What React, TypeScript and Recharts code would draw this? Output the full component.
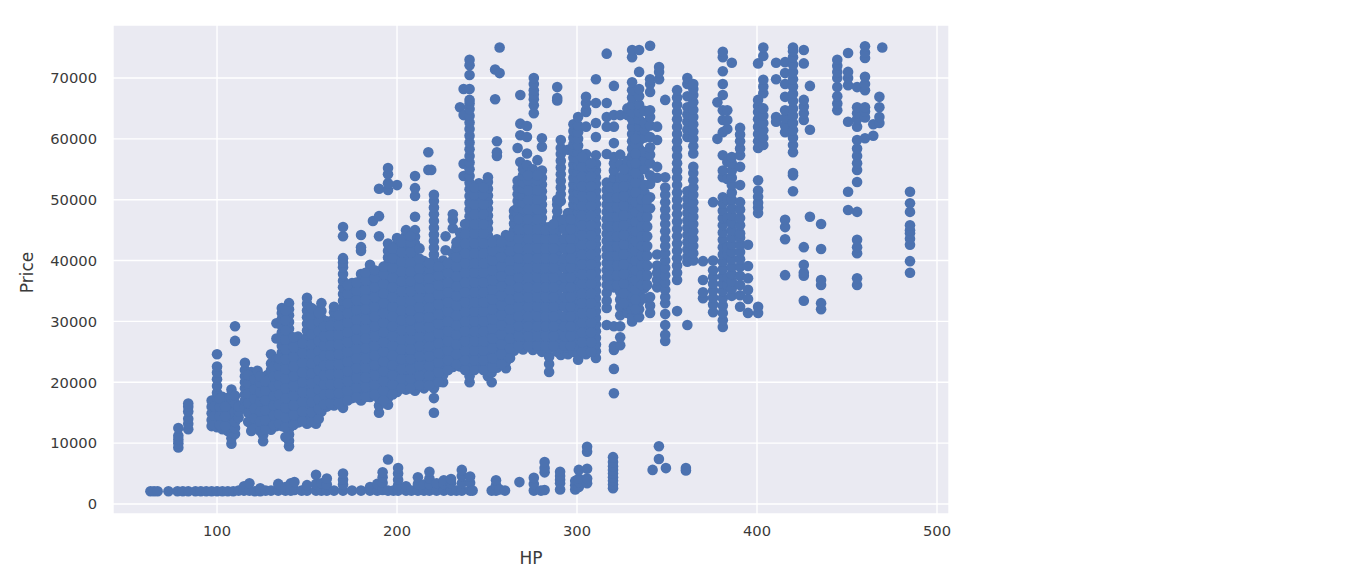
import { CartesianGrid, Scatter, ScatterChart, XAxis, YAxis } from "recharts";

type Column = [number, number[]];

// prices in thousands
const cheapCars: Column[] = [
  [63, [2.1]], [65, [2.1]], [67, [2.1]], [73, [2.1]], [78, [2.1]], [81, [2.1]], [84, [2.1]], [88, [2.1]], [91, [2.1]], [94, [2.1]],
  [97, [2.1]], [100, [2.1]], [103, [2.1]], [106, [2.1]], [109, [2.1]], [112, [2.2]], [115, [2.2, 2.9]], [118, [2.2, 3.4]], [121, [2.1]],
  [124, [2.1, 2.6]], [127, [2.2]], [130, [2.2]], [134, [2.2, 3.3]], [138, [2.2, 2.8]], [141, [2.2, 3.4]], [143, [2.3, 3.6]], [147, [2.2]],
  [150, [2.2, 3.1]], [155, [2.2, 3.3, 4.8]], [158, [2.2, 3.4]], [161, [2.2, 3.2, 4.2]], [165, [2.2]], [170, [2.2, 3.2, 4.0, 5.0]], [175, [2.2]],
  [180, [2.2]], [185, [2.2, 2.8]], [189, [2.2, 3.3]], [192, [2.3, 3.5, 4.4, 5.2]], [195, [2.2, 7.3]], [198, [2.2]], [200.6, [2.2, 3.1, 4.0, 5.0, 5.9]],
  [205, [2.2, 2.9]], [208, [2.2]], [211.6, [2.2, 3.3, 4.4]], [215, [2.2, 3.2]], [218, [2.2, 3.2, 4.2, 5.3]], [222, [2.2, 3.4]], [226, [2.2, 3.3, 3.9]],
  [230, [2.2, 3.4, 4.1]], [233, [2.2]], [236, [2.2, 3.4, 4.6, 5.6]], [240.6, [2.2, 3.5, 4.5]], [242, [2.2]],
  [252.6, [2.2]], [255, [2.2, 3.1, 3.9]], [257, [2.4]], [260, [2.2]], [268, [3.6]], [276, [2.2, 3.3, 4.3]], [280, [2.2]], [282, [2.3, 5.2, 5.9, 6.9]],
  [290.6, [2.4, 3.4, 4.0, 4.6, 5.3]], [299, [2.4, 3.1, 3.8]], [301, [2.8, 3.6, 4.2, 5.6]], [305.6, [3.4, 4.2, 5.8, 8.6, 9.4]],
  [320, [2.6, 3.2, 3.8, 4.4, 5.0, 5.6, 6.2, 6.9, 7.7]], [342, [5.6]], [345.5, [7.4, 9.5]], [349.4, [5.9]], [360.5, [5.5, 5.9]],
];

const entryCars: Column[] = [
  [78.5, [9.3, 10, 10.6, 11.2, 12.5]],
  [84, [12.3, 13.2, 14, 15.2, 16, 16.5]],
  [97, [12.8, 13.8, 14.9, 16, 17]],
  [100, [12.6, 13.6, 14.5, 15.5, 16.4, 17.5, 18.3, 19.4, 20.5, 21.6, 22.6, 24.6]],
  [103, [12.3, 13.3, 14.2, 15.3, 16.3, 17.6]],
  [106, [12, 13, 14.1, 15.1, 16.2, 17.4]],
  [108, [9.9, 10.8, 11.7, 12.6, 13.6, 14.6, 15.7, 16.8, 17.9, 18.8]],
  [110, [11.5, 12.5, 13.5, 15.2, 16.6, 17.8, 26.8, 29.2]],
  [112, [14.2, 15.3, 16]],
  [115.5, [16, 17, 18, 19, 20, 21, 22, 23.2]],
  [119, [12, 13.1, 14.2, 15.3, 16.4, 17.5, 18.6, 19.7, 20.8, 21.7]],
  [122.5, [12.6, 13.7, 14.8, 15.9, 17, 18.1, 19.2, 20.3, 21.4, 21.9]],
  [125.6, [10.3, 11.3, 12.3, 13.4, 14.5, 15.6, 16.7, 17.8, 18.9, 19.9]],
  [128, [12.4, 13.5, 14.6, 15.7, 16.8, 17.9, 19, 20.1, 21.2]],
  [130, [12.2, 13.2, 14.3, 15.4, 16.5, 17.6, 18.7, 19.8, 20.9, 22, 23.1, 24.6]],
  [133, [12.8, 13.9, 15, 16.1, 17.2, 18.3, 19.4, 20.5, 21.6, 22.7, 23.8, 27.2, 29.7]],
  [136, [12.8, 13.9, 15, 16.1, 17.2, 18.3, 19.4, 20.5, 21.6, 22.7, 23.8, 24.9, 26, 27.1, 28.2, 29.3, 30.4, 31.4, 32.2]],
  [140, [9.5, 10.4, 11.4, 12.4, 13.4, 14.5, 15.6, 16.7, 17.8, 18.9, 20, 21.1, 22.2, 23.3, 24.4, 25.5, 26.6, 27.7, 28.8, 29.9, 31, 32, 33]],
  [145, [13.4, 14.5, 15.6, 16.7, 17.8, 18.9, 20, 21.1, 22.2, 23.3, 24.4, 25.5, 26.6, 27.5]],
  [150, [13.2, 14.2, 15.3, 16.4, 17.5, 18.6, 19.7, 20.8, 21.9, 23, 24.1, 25.2, 26.3, 27.4, 28.5, 29.6, 30.7, 31.8, 32.9, 33.9]],
  [155, [13.2, 14.3, 15.4, 16.5, 17.6, 18.7, 19.8, 20.9, 22, 23.1, 24.2, 25.3, 26.4, 27.5, 28.6, 29.7, 30.8, 31.8]],
  [158, [15.2, 16.3, 17.4, 18.5, 19.6, 20.7, 21.8, 22.9, 24, 25.1, 26.2, 27.3, 28.4, 29.5, 30.6, 31.7, 33]],
  [161, [16, 17.1, 18.2, 19.3, 20.4, 21.5, 22.6, 23.7, 24.8, 25.9, 27, 28.1, 29.2, 30]],
];

const midCars: Column[] = [
  [165, [16.2, 17.3, 18.4, 19.5, 20.6, 21.7, 22.8, 23.9, 25, 26.1, 27.2, 28.3, 29.4, 30.5, 31.5, 32.4]],
  [170, [15.8, 16.9, 18, 19.1, 20.2, 21.3, 22.4, 23.5, 24.6, 25.7, 26.8, 27.9, 29, 30.1, 31.2, 32.3, 33.4, 34.5, 35.6, 36.7, 37.8, 38.9, 39.7, 40.4, 44, 45.5]],
  [175, [17.4, 18.5, 19.6, 20.7, 21.8, 22.9, 24, 25.1, 26.2, 27.3, 28.4, 29.5, 30.6, 31.7, 32.8, 33.9, 35, 36.3]],
  [180, [17, 18, 19.1, 20.2, 21.3, 22.4, 23.5, 24.6, 25.7, 26.8, 27.9, 29, 30.1, 31.2, 32.3, 33.4, 34.5, 35.6, 36.7, 37.8, 41.6, 42.2, 44.2]],
  [185, [17.6, 18.7, 19.8, 20.9, 22, 23.1, 24.2, 25.3, 26.4, 27.5, 28.6, 29.7, 30.8, 31.9, 33, 34.1, 35.2, 36.3, 37.4, 38.5, 39.3]],
  [186.6, [46.5]],
  [190, [15, 16.2, 17.3, 18.4, 19.5, 20.6, 21.7, 22.8, 23.9, 25, 26.1, 27.2, 28.3, 29.4, 30.5, 31.6, 32.7, 33.8, 34.9, 36, 37.1, 38.2, 44, 47.3, 51.8]],
  [195, [16.3, 17.4, 18.5, 19.6, 20.7, 21.8, 22.9, 24, 25.1, 26.2, 27.3, 28.4, 29.5, 30.6, 31.7, 32.8, 33.9, 35, 36.1, 37.2, 38.3, 39.4, 40.5, 41.6, 42.8, 51.6, 52.7, 54.2, 55.2]],
  [200, [18.4, 19.5, 20.6, 21.7, 22.8, 23.9, 25, 26.1, 27.2, 28.3, 29.4, 30.5, 31.6, 32.7, 33.8, 34.9, 36, 37.1, 38.2, 39.3, 40.4, 41.5, 42.6, 43.7, 52.4]],
  [205, [18.8, 19.9, 21, 22.1, 23.2, 24.3, 25.4, 26.5, 27.6, 28.7, 29.8, 30.9, 32, 33.1, 34.2, 35.3, 36.4, 37.5, 38.6, 39.7, 40.8, 41.9, 43, 44.1, 45]],
  [210, [18.6, 19.7, 20.8, 21.9, 23, 24.1, 25.2, 26.3, 27.4, 28.5, 29.6, 30.7, 31.8, 32.9, 34, 35.1, 36.2, 37.3, 38.4, 39.5, 40.6, 41.7, 42.8, 43.9, 45, 47.2, 50.6, 51.9, 53.9]],
  [215, [19, 20.1, 21.2, 22.3, 23.4, 24.5, 25.6, 26.7, 27.8, 28.9, 30, 31.1, 32.2, 33.3, 34.4, 35.5, 36.6, 37.7, 38.8, 39.9]],
  [217.4, [54.9, 57.8]],
  [219, [54.9]],
  [220.5, [15, 17.4, 19, 20.1, 21.2, 22.3, 23.4, 24.5, 25.6, 26.7, 27.8, 28.9, 30, 31.1, 32.2, 33.3, 34.4, 35.5, 36.6, 37.7, 38.8, 39.9, 41, 42.1, 43.2, 44.3, 45.4, 46.5, 47.6, 48.7, 49.8, 50.8]],
  [225.6, [20, 21.2, 22.3, 23.4, 24.5, 25.6, 26.7, 27.8, 28.9, 30, 31.1, 32.2, 33.3, 34.4, 35.5, 36.6, 37.7, 38.8, 40]],
  [227, [41.7, 44]],
  [231, [22.5, 23.6, 24.7, 25.8, 26.9, 28, 29.1, 30.2, 31.3, 32.4, 33.5, 34.6, 35.7, 36.8, 37.9, 39, 40.1, 41.2, 45.3, 46.7, 47.6]],
  [235, [22.6, 23.7, 24.8, 25.9, 27, 28.1, 29.2, 30.3, 31.4, 32.5, 33.6, 34.7, 35.8, 36.9, 38, 39.1, 40.2, 41.3, 42.4, 43.5, 44.6, 65.2]],
  [237, [53.9, 55.9, 63.9, 68.2]],
  [240.3, [20, 21, 22, 23.1, 24.2, 25.3, 26.4, 27.5, 28.6, 29.7, 30.8, 31.9, 33, 34.1, 35.2, 36.3, 37.4, 38.5, 39.6, 40.7, 41.8, 42.9, 44, 45.1, 46.2, 47.3, 48.4, 49.5, 50.6, 51.7, 52.8, 53.9, 55, 56.1, 57.2, 58.3, 59.4, 60.5, 61.6, 62.7, 63.8, 64.9, 65.8, 66.4, 68.2, 70.5, 72.1, 73]],
];

const sportCars: Column[] = [
  [245.5, [22.5, 23.6, 24.7, 25.8, 26.9, 28, 29.1, 30.2, 31.3, 32.4, 33.5, 34.6, 35.7, 36.8, 37.9, 39, 40.1, 41.2, 42.3, 43.4, 44.5, 45.6, 46.7, 47.8, 48.9, 50, 51.1, 52.7]],
  [250.5, [21, 22.1, 23.2, 24.3, 25.4, 26.5, 27.6, 28.7, 29.8, 30.9, 32, 33.1, 34.2, 35.3, 36.4, 37.5, 38.6, 39.7, 40.8, 41.9, 43, 44.1, 45.2, 46.3, 47.4, 48.5, 49.6, 50.7, 51.8, 52.9, 53.7]],
  [252.6, [20, 21.6]],
  [254.5, [66.5, 71.4]],
  [255.5, [22.4, 23.5, 24.6, 25.7, 26.8, 27.9, 29, 30.1, 31.2, 32.3, 33.4, 34.5, 35.6, 36.7, 37.8, 38.9, 40, 41.1, 42.2, 43.5, 57.2, 57.8, 59.6]],
  [257, [70.8, 75]],
  [260.5, [22.3, 23.4, 24.5, 25.6, 26.7, 27.8, 28.9, 30, 31.1, 32.2, 33.3, 34.4, 35.5, 36.6, 37.7, 38.8, 39.9, 41, 42.1, 43.2, 44.2]],
  [265, [25.2, 26.3, 27.4, 28.5, 29.6, 30.7, 31.8, 32.9, 34, 35.1, 36.2, 37.3, 38.4, 39.5, 40.6, 41.7, 42.8, 43.9, 45, 46.1, 47.2, 48.2]],
  [267, [47.6, 48.7, 49.8, 50.9, 52, 53.1, 58.5]],
  [268.5, [56.2, 60.6, 62.5, 67.2]],
  [270, [25.4, 26.5, 27.6, 28.7, 29.8, 30.9, 32, 33.1, 34.2, 35.3, 36.4, 37.5, 38.6, 39.7, 40.8, 41.9, 43, 44.1, 45.2, 46.3, 47.4, 48.5, 49.6, 50.7, 51.8, 52.9, 54, 55]],
  [272.2, [55.7, 57.6, 60.3, 62.1]],
  [275.5, [25.3, 26.4, 27.5, 28.6, 29.7, 30.8, 31.9, 33, 34.1, 35.2, 36.3, 37.4, 38.5, 39.6, 40.7, 41.8, 42.9, 44, 45.1, 46.2, 47.3, 48.4, 49.5, 50.6, 51.7, 52.8, 53.9, 55]],
  [276, [64.2, 65.5, 66.5, 67.3, 68, 69, 70]],
  [278, [56.5]],
  [280.5, [25, 26.1, 27.2, 28.3, 29.4, 30.5, 31.6, 32.7, 33.8, 34.9, 36, 37.1, 38.2, 39.3, 40.4, 41.5, 42.6, 43.7, 44.8, 45.9, 47, 48.1, 49.2, 50.3, 51.4, 52.5, 53.6, 54.8, 58.7, 60.1]],
  [284.5, [21.7, 23, 24.2, 25.6, 26.7, 27.8, 28.9, 30, 31.1, 32.2, 33.3, 34.4, 35.5, 36.6, 37.7, 38.8, 39.9, 41, 42.1, 43.2, 44.3, 45.5]],
  [289, [25, 26.1, 27.2, 28.3, 29.4, 30.5, 31.6, 32.7, 33.8, 34.9, 36, 37.1, 38.2, 39.3, 40.4, 41.5, 42.6, 43.7, 44.8, 45.9, 47, 48.1, 49.2, 50, 66.3, 66.7, 68.5]],
  [291, [24.5, 25.6, 26.7, 27.8, 30, 33.3, 36.6, 40, 43.2, 46.5, 49.8, 50.9, 52, 53.1, 54.2, 55.3, 56.4, 57.5, 58.5, 59.8]],
  [295, [24.6, 25.7, 26.8, 27.9, 29, 30.1, 31.2, 32.3, 33.4, 34.5, 35.6, 36.7, 37.8, 38.9, 40, 41.1, 42.2, 43.3, 44.4, 45.5, 46.6, 47.8, 58.2]],
  [298, [25, 26.1, 27.2, 28.3, 29.4, 30.5, 31.6, 32.7, 33.8, 34.9, 36, 37.1, 38.2, 39.3, 40.4, 41.5, 42.6, 43.7, 44.8, 45.9, 47, 48.1, 49.2, 50.3, 51.4, 52.5, 53.6, 54.7, 55.8, 56.9, 58, 59.1, 60.2, 61.3, 62.4]],
  [300.6, [23.7, 24.8, 25.9, 27, 28.1, 29.2, 30.3, 31.4, 32.5, 33.6, 34.7, 35.8, 36.9, 38, 39.1, 40.2, 41.3, 42.4, 43.5, 44.6, 45.7, 46.8, 47.9, 49, 50.1, 51.2, 52.3, 53.4, 54.5, 55.6, 56.7, 57.8, 58.9, 60, 61.1, 62.2, 63.6]],
  [305, [24.6, 25.7, 26.8, 27.9, 29, 30.1, 31.2, 32.3, 33.4, 34.5, 35.6, 36.7, 37.8, 38.9, 40, 41.1, 42.2, 43.3, 44.4, 45.5, 46.6, 47.7, 48.8, 49.9, 51, 52.1, 53.2, 54.3, 55.4, 56.5, 57.5, 62, 64.4, 64.7, 65.9, 66.9]],
  [310.5, [24, 25.1, 26.2, 27.3, 28.4, 29.5, 30.6, 31.7, 32.8, 33.9, 35, 36.1, 37.2, 38.3, 39.4, 40.5, 41.6, 42.7, 43.8, 44.9, 46, 47.1, 48.2, 49.3, 50.4, 51.5, 52.6, 53.7, 54.8, 55.9, 57.3, 60.3, 62.6, 65.9, 69.8]],
];

const upperCars: Column[] = [
  [316.5, [29.4, 32.2, 33.4, 34.7, 36, 37.2, 38.4, 39.6, 40.8, 42, 43.2, 44.4, 45.6, 46.8, 48, 49.2, 50.4, 51.6, 52.8, 57.5, 62, 63.6, 65.9, 74]],
  [320.5, [18.2, 22.2, 25.3, 25.9, 29.2, 35.6, 36.8, 38, 39.2, 40.4, 41.6, 42.8, 44, 45.2, 46.4, 47.6, 48.8, 50, 51.2, 52.4, 53.6, 54.8, 56, 57, 59.3, 62, 63.9, 68.7]],
  [324, [26.1, 27.4, 29.2, 31, 32.4, 33.6, 34.8, 36, 37.2, 38.4, 39.6, 40.8, 42, 43.2, 44.4, 45.6, 46.8, 48, 49.2, 50.4, 51.6, 52.8, 53.7, 55.8, 57.4, 63.9]],
  [328, [31.4, 32.6, 33.8, 35, 36.2, 37.4, 38.6, 39.8, 41, 42.2, 43.4, 44.6, 45.8, 47, 48.2, 49.4, 50.6, 51.8, 53, 54.2, 55.4, 56.4, 63.9, 65]],
  [330.6, [30, 30.7, 32, 33.2, 34.4, 35.6, 36.8, 38, 39.2, 40.4, 41.6, 42.8, 44, 45.2, 46.4, 47.6, 48.8, 50, 51.2, 52.4, 53.6, 54.8, 56, 57.2, 58.4, 59.6, 60.8, 62, 63.2, 64.4, 65.6, 66.8, 68, 69.3, 73.4, 74.6]],
  [334.5, [30.7, 32, 33.2, 34.4, 35.6, 36.8, 38, 39.2, 40.4, 41.6, 42.8, 44, 45.2, 46.4, 47.6, 48.8, 50, 51.2, 52.4, 53.6, 54.8, 56, 57.2, 58.4, 59.6, 60.8, 62, 63.2, 64.4, 65.6, 67, 68.2, 71, 74.6]],
  [337.5, [33.8, 35.5, 36.8, 38, 39.2, 40.4, 41.6, 42.8, 44, 45.2, 46.4, 47.6, 48.8, 50, 51.2, 52.4, 55, 56.4, 57.8, 60.2, 61.4, 62.6, 64.6]],
  [340.6, [31.4, 32.6, 34, 48.6, 50.4, 52.6, 54, 56, 57.4, 58.6, 60.3, 62.2, 63.6, 64.7, 67.7, 69, 69.8, 75.3]],
  [344.5, [35.6, 36.8, 38, 39.2, 41, 53.6, 55.4, 59.8, 62]],
  [345.6, [69.8, 71, 71.8]],
  [349, [26.8, 27.8, 29.4, 31.2, 33, 34, 35.2, 36.4, 37.6, 38.8, 40, 41.2, 42.4, 43.6, 44.8, 46, 47.2, 48.4, 49.6, 50.8, 52, 53.7, 66.4]],
  [355.6, [31.7, 36.8, 38, 39.2, 40.4, 41.6, 42.8, 44, 45.2, 46.4, 47.6, 48.8, 50, 51.2, 52.4, 53.6, 54.8, 56, 57.2, 58.4, 59.6, 60.8, 62, 63.2, 64.4, 65.6, 66.8, 68]],
  [361.3, [29.4, 39.8, 40.6, 41.8, 43, 44.2, 45.4, 46.6, 47.8, 49, 50.2, 51.4, 60.3, 61.5, 62.8, 64, 65.2, 67, 69, 70]],
  [364.6, [40, 41.2, 42.4, 43.6, 44.8, 46, 47.2, 48.4, 49.6, 50.8, 52, 53.2, 54.4, 55.4, 57.6, 58.8, 60, 61.2, 62.4, 63.6, 64.8, 66, 67.2, 68.2, 69]],
  [370, [33.8, 34.8, 36.8, 39.9]],
  [375.6, [31.5, 32.8, 33.9, 35.1, 36.2, 37.3, 38.4, 40, 49.6]],
  [378, [60, 66]],
  [381, [29.1, 30.2, 31.4, 32.6, 33.8, 35, 36.2, 37.4, 38.6, 39.8, 41, 42.2, 43.4, 44.6, 45.8, 47, 48.2, 49.4, 50.4, 53.7, 54.8, 57.3, 61.1, 63.1, 64.7, 67.2, 69, 71.1, 73.4, 74.3]],
  [383.5, [36, 37.2, 41, 42.2, 47, 50, 53.4, 56.2, 61.6, 63.1, 64.7]],
  [386, [34.2, 35.4, 36.6, 37.8, 39, 40.2, 41.4, 42.6, 43.8, 45, 46.2, 47.4, 48.6, 50, 51.2, 52.4, 53.6, 54.8, 56, 57, 72.5]],
  [390.6, [32.4, 34.3, 36, 37.5, 39, 40.2, 41.4, 42.6, 43.8, 44.5, 45.8, 47, 48.4, 49.6, 52.4, 55.4, 57.3, 58.4, 59.6, 60.7, 61.8]],
  [395, [31.4, 33.7, 35.2, 37.1, 39.1, 42.6]],
  [400.6, [31.4, 32.4, 47.8, 48.7, 49.5, 50.5, 51.5, 53.2, 58.5, 59.6, 60.8, 62, 63.2, 64.4, 65.4, 66.4, 72.4]],
  [403.5, [59, 60.2, 61.4, 62.6, 63.8, 65, 67.5, 68.6, 69.7, 73.6, 75]],
  [410.6, [62.8, 63.6, 69.8, 72.5]],
  [415.6, [37.6, 43.5, 45.5, 46.7, 61.1, 62.2, 63.4, 64.7, 66.9, 69, 70.8, 72.6]],
  [420, [51.4, 54, 54.4, 57.8, 59, 60.2, 61.4, 62.6, 63.8, 65, 66.2, 67.4, 68.6, 69.8, 71, 72.2, 73.4, 74.4, 75]],
  [426, [33.4, 37.5, 38, 39.3, 42.2, 63.1, 64.2, 65.3, 66.4, 72.4, 74.6]],
  [429.4, [47.2, 61.5, 68.7]],
  [435.6, [32, 33, 36, 36.8, 41.9, 46]],
  [444.6, [64.7, 65.8, 67, 68.5, 70, 71, 72, 73]],
  [450.6, [48.3, 51.3, 62.8, 68.8, 70, 71, 74.1]],
  [455.6, [36, 37.1, 41.2, 42.2, 43.4, 48, 52.9, 54.9, 56, 57.2, 58.4, 59.8, 62, 63.2, 64.2, 65.2, 68.5]],
  [460, [60.1, 63.5, 64.5, 65.2, 68, 69, 70.2, 73.3, 74.2, 75.2]],
  [464.6, [60.5, 62.4]],
  [468, [62.6, 63.6, 65.2, 66.9]],
  [469.6, [75]],
  [485, [38, 39.9, 42.6, 43.6, 44.5, 45, 45.8, 48, 49.4, 51.3]],
];

// the many cars sitting between the main hp columns, where the mass is solid
const denseLow: Column[] = [
  [98.5, [13, 14.5, 16]], [101.5, [13, 14.5, 16, 17.3]], [104.5, [12.8, 14.4, 16]],
  [117.3, [13.5, 15, 16.6, 18.2, 19.8, 21.2]],
  [120.8, [12.5, 14.1, 15.7, 17.3, 18.9, 20.5]],
  [124, [12, 13.6, 15.2, 16.8, 18.4, 20, 21]],
  [126.8, [12.2, 13.8, 15.4, 17, 18.6, 20.2]],
  [131.5, [13, 14.6, 16.2, 17.8, 19.4, 21, 22.6]],
  [134.5, [13.2, 14.8, 16.4, 18, 19.6, 21.2, 22.8, 24]],
  [138, [11, 12.6, 14.2, 15.8, 17.4, 19, 20.6, 22.2, 23.8, 25.4, 27, 28.6, 30.2, 31.8]],
  [142.5, [13, 14.6, 16.2, 17.8, 19.4, 21, 22.6, 24.2, 25.8, 27.4]],
  [147.5, [13.6, 15.2, 16.8, 18.4, 20, 21.6, 23.2, 24.8, 26.4]],
  [152.5, [13.5, 15.1, 16.7, 18.3, 19.9, 21.5, 23.1, 24.7, 26.3, 27.9, 29.5, 31.1, 32.2]],
  [156.5, [14, 15.6, 17.2, 18.8, 20.4, 22, 23.6, 25.2, 26.8, 28.4, 30, 31.4]],
  [159.5, [16.4, 18, 19.6, 21.2, 22.8, 24.4, 26, 27.6, 29.2]],
  [163, [16.5, 18.1, 19.7, 21.3, 22.9, 24.5, 26.1, 27.7, 29.3]],
  [167.5, [16.6, 18.2, 19.8, 21.4, 23, 24.6, 26.2, 27.8, 29.4, 31]],
  [172.5, [17, 18.6, 20.2, 21.8, 23.4, 25, 26.6, 28.2, 29.8, 31.4, 33, 34.6, 36]],
  [177.5, [17.5, 19.1, 20.7, 22.3, 23.9, 25.5, 27.1, 28.7, 30.3, 31.9, 33.5, 35.1, 36.4]],
  [182.5, [17.6, 19.2, 20.8, 22.4, 24, 25.6, 27.2, 28.8, 30.4, 32, 33.6, 35.2, 36.8, 38]],
  [187.5, [18, 19.6, 21.2, 22.8, 24.4, 26, 27.6, 29.2, 30.8, 32.4, 34, 35.6, 37.2, 38.4]],
  [192.5, [17, 18.6, 20.2, 21.8, 23.4, 25, 26.6, 28.2, 29.8, 31.4, 33, 34.6, 36.2, 37.8, 39]],
  [197.5, [18, 19.6, 21.2, 22.8, 24.4, 26, 27.6, 29.2, 30.8, 32.4, 34, 35.6, 37.2, 38.8, 40.4, 42]],
  [202.5, [19, 20.6, 22.2, 23.8, 25.4, 27, 28.6, 30.2, 31.8, 33.4, 35, 36.6, 38.2, 39.8, 41.4, 43]],
  [207.5, [19, 20.6, 22.2, 23.8, 25.4, 27, 28.6, 30.2, 31.8, 33.4, 35, 36.6, 38.2, 39.8, 41.4, 43, 44]],
  [212.5, [19.5, 21.1, 22.7, 24.3, 25.9, 27.5, 29.1, 30.7, 32.3, 33.9, 35.5, 37.1, 38.7, 40.3, 42]],
  [217.8, [19.5, 21.1, 22.7, 24.3, 25.9, 27.5, 29.1, 30.7, 32.3, 33.9, 35.5, 37.1, 38.7, 39.6]],
  [223, [20, 21.6, 23.2, 24.8, 26.4, 28, 29.6, 31.2, 32.8, 34.4, 36, 37.6, 39]],
  [228.3, [22, 23.6, 25.2, 26.8, 28.4, 30, 31.6, 33.2, 34.8, 36.4, 38, 39.6]],
  [233, [23, 24.6, 26.2, 27.8, 29.4, 31, 32.6, 34.2, 35.8, 37.4, 39, 40.6, 42.2, 43]],
];

const denseHigh: Column[] = [
  [237.8, [22, 23.6, 25.2, 26.8, 28.4, 30, 31.6, 33.2, 34.8, 36.4, 38, 39.6, 41.2, 42.8, 44.4, 46]],
  [243, [22, 23.6, 25.2, 26.8, 28.4, 30, 31.6, 33.2, 34.8, 36.4, 38, 39.6, 41.2, 42.8, 44.4, 46, 47.6, 49.2, 50.8, 52]],
  [248, [22, 23.6, 25.2, 26.8, 28.4, 30, 31.6, 33.2, 34.8, 36.4, 38, 39.6, 41.2, 42.8, 44.4, 46, 47.6, 49.2, 50.8, 52]],
  [253, [22.4, 24, 25.6, 27.2, 28.8, 30.4, 32, 33.6, 35.2, 36.8, 38.4, 40, 41.6, 43]],
  [258, [23, 24.6, 26.2, 27.8, 29.4, 31, 32.6, 34.2, 35.8, 37.4, 39, 40.6, 42.2, 43]],
  [262.8, [24, 25.6, 27.2, 28.8, 30.4, 32, 33.6, 35.2, 36.8, 38.4, 40, 41.6, 43.2, 44]],
  [267.5, [26, 27.6, 29.2, 30.8, 32.4, 34, 35.6, 37.2, 38.8, 40.4, 42, 43.6, 45.2, 46.8]],
  [272.8, [26, 27.6, 29.2, 30.8, 32.4, 34, 35.6, 37.2, 38.8, 40.4, 42, 43.6, 45.2, 46.8, 48.4, 50, 51.6, 53.2, 54]],
  [278, [26, 27.6, 29.2, 30.8, 32.4, 34, 35.6, 37.2, 38.8, 40.4, 42, 43.6, 45.2, 46.8, 48.4, 50, 51.6, 53.2, 54]],
  [282.5, [26, 27.6, 29.2, 30.8, 32.4, 34, 35.6, 37.2, 38.8, 40.4, 42, 43.6, 45]],
  [287, [26, 27.6, 29.2, 30.8, 32.4, 34, 35.6, 37.2, 38.8, 40.4, 42, 43.6, 45.2, 46]],
  [293, [26, 27.6, 29.2, 30.8, 32.4, 34, 35.6, 37.2, 38.8, 40.4, 42, 43.6, 45.2, 46.8]],
  [296.5, [26, 27.6, 29.2, 30.8, 32.4, 34, 35.6, 37.2, 38.8, 40.4, 42, 43.6, 45.2, 46.8]],
  [302.8, [25, 26.6, 28.2, 29.8, 31.4, 33, 34.6, 36.2, 37.8, 39.4, 41, 42.6, 44.2, 45.8, 47.4, 49, 50.6, 52.2, 53.8, 55.4, 57]],
  [307.8, [25, 26.6, 28.2, 29.8, 31.4, 33, 34.6, 36.2, 37.8, 39.4, 41, 42.6, 44.2, 45.8, 47.4, 49, 50.6, 52.2, 53.8, 55.4, 56]],
  [318.5, [36, 37.6, 39.2, 40.8, 42.4, 44, 45.6, 47.2, 48.8, 50.4, 52]],
  [322.3, [36, 37.6, 39.2, 40.8, 42.4, 44, 45.6, 47.2, 48.8, 50.4, 52]],
  [326, [33, 34.6, 36.2, 37.8, 39.4, 41, 42.6, 44.2, 45.8, 47.4, 49, 50.6, 52.2, 53.8, 55]],
  [332.5, [32, 33.6, 35.2, 36.8, 38.4, 40, 41.6, 43.2, 44.8, 46.4, 48, 49.6, 51.2, 52.8, 54.4, 56, 57.6, 59.2, 60]],
  [336, [36, 37.6, 39.2, 40.8, 42.4, 44, 45.6, 47.2, 48.8, 50]],
  [339, [36, 37.6, 39.2, 40.8, 42.4, 44, 45.6, 47.2, 48.8, 50]],
];

const xTicks = [100, 200, 300, 400, 500];
const yTicks = [0, 10000, 20000, 30000, 40000, 50000, 60000, 70000];

const points = [...cheapCars, ...entryCars, ...midCars, ...sportCars, ...upperCars, ...denseLow, ...denseHigh].flatMap(([hp, prices]) =>
  prices.map((price) => ({ hp, price: price * 1000 }))
);

const tickStyle = { fontSize: 14.7, fill: "#3a3a3a", fontFamily: "DejaVu Sans" };
const labelStyle = { fontSize: 17, fill: "#3a3a3a", fontFamily: "DejaVu Sans" };

function Dot(props: any) {
  return <circle cx={props.cx} cy={props.cy} r={5.3} fill="#4c72b0" />;
}

export default function App() {
  return (
    <div style={{ position: "absolute", left: 0, top: 0, width: 1372, height: 584, background: "#fff" }}>
      <ScatterChart width={1372} height={584} margin={{ top: 25, right: 423, bottom: 0, left: 0 }}>
        <CartesianGrid fill="#eaeaf2" stroke="#fff" strokeWidth={1.4} />
        <XAxis
          type="number"
          dataKey="hp"
          domain={[42.2, 506.67]}
          ticks={xTicks}
          height={70}
          axisLine={false}
          tickLine={false}
          tickSize={0}
          tickMargin={12}
          tick={tickStyle}
          label={{ value: "HP", position: "insideBottom", offset: 20, style: labelStyle }}
        />
        <YAxis
          type="number"
          dataKey="price"
          domain={[-1643, 78706]}
          ticks={yTicks}
          width={113}
          axisLine={false}
          tickLine={false}
          tickSize={0}
          tickMargin={16}
          tick={tickStyle}
          label={{ value: "Price", angle: -90, position: "insideLeft", offset: 27, dy: 3, style: { ...labelStyle, textAnchor: "middle" } }}
        />
        <Scatter data={points} shape={Dot} isAnimationActive={false} />
      </ScatterChart>
    </div>
  );
}
